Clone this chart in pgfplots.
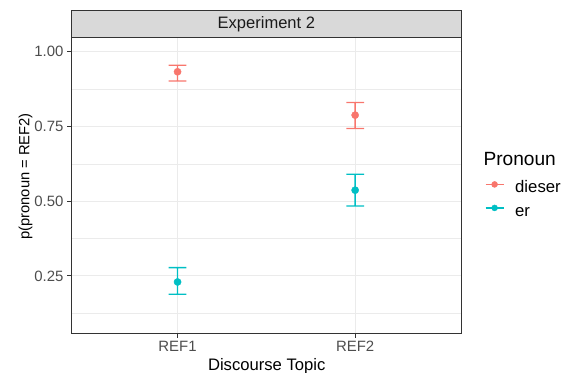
\documentclass[border=0pt]{standalone}
\usepackage{pgfplots}
\usepackage{pgfplotstable}
\pgfplotsset{compat=1.18}
\usepackage{fontspec}
\setmainfont{Liberation Sans}
\definecolor{cdieser}{HTML}{F8766D}
\definecolor{cer}{HTML}{00BFC4}
\definecolor{gridc}{HTML}{EBEBEB}
\definecolor{grey20}{HTML}{333333}
\definecolor{grey30}{HTML}{4D4D4D}
\definecolor{grey85}{HTML}{D9D9D9}
\definecolor{grey10}{HTML}{1A1A1A}
% points
\pgfplotstableread{
x y
1 0.933
2 0.788
}\dieser
\pgfplotstableread{
x y
1 0.230
2 0.537
}\er
% error bars (lower 0.902/0.743, upper 0.955/0.830) as thin filled strips: bars and caps
\pgfplotstableread{
x y
0.9963 0.902
1.0037 0.902
1.0037 0.955
0.9963 0.955
nan nan
0.95 0.9528
1.05 0.9528
1.05 0.9572
0.95 0.9572
nan nan
0.95 0.8998
1.05 0.8998
1.05 0.9042
0.95 0.9042
nan nan
1.9963 0.743
2.0037 0.743
2.0037 0.830
1.9963 0.830
nan nan
1.95 0.8278
2.05 0.8278
2.05 0.8322
1.95 0.8322
nan nan
1.95 0.7408
2.05 0.7408
2.05 0.7452
1.95 0.7452
}\dieserci
% error bars (lower 0.189/0.484, upper 0.278/0.590)
\pgfplotstableread{
x y
0.9963 0.189
1.0037 0.189
1.0037 0.278
0.9963 0.278
nan nan
0.95 0.2758
1.05 0.2758
1.05 0.2802
0.95 0.2802
nan nan
0.95 0.1868
1.05 0.1868
1.05 0.1912
0.95 0.1912
nan nan
1.9963 0.484
2.0037 0.484
2.0037 0.590
1.9963 0.590
nan nan
1.95 0.5878
2.05 0.5878
2.05 0.5922
1.95 0.5922
nan nan
1.95 0.4818
2.05 0.4818
2.05 0.4862
1.95 0.4862
}\erci
\begin{document}
\begin{tikzpicture}
\begin{axis}[
  at={(71bp,39bp)}, anchor=south west,
  scale only axis, width=390.7bp, height=296.3bp,
  xmin=0.4, xmax=2.6, ymin=0.056, ymax=1.047,
  xtick={1,2}, xticklabels={REF1,REF2},
  ytick={0.25,0.5,0.75,1}, yticklabels={0.25,0.50,0.75,1.00},
  minor ytick={0.125,0.375,0.625,0.875},
  xmajorgrids, ymajorgrids, yminorgrids,
  major grid style={gridc, line width=1bp},
  minor grid style={gridc, line width=0.55bp},
  axis line style={grey20, line width=1bp},
  tick align=outside, major tick length=4bp, minor tick length=0pt,
  tick style={grey20, line width=1bp},
  xtick pos=bottom, ytick pos=left,
  ticklabel style={font=\fontsize{15}{18}\selectfont, text=grey30},
  xlabel={Discourse Topic}, ylabel={p(pronoun = REF2)},
  xlabel style={font=\fontsize{16.7}{20}\selectfont, at={(rel axis cs:0.501,-0.122)}, anchor=base},
  ylabel style={font=\fontsize{14.8}{18}\selectfont, at={(rel axis cs:-0.1165,0.5316)}, anchor=center},
  clip=false,
  set layers, axis on top=false,
  unbounded coords=jump,
  legend style={at={(rel axis cs:1.0596,0.45)}, anchor=west, draw=none, fill=none,
    inner sep=0pt, outer sep=0pt,
    font=\fontsize{16.8}{20}\selectfont,
    nodes={inner sep=0pt, text height=12bp, text depth=4bp},
    row sep=7.5bp, column sep=11bp},
  legend cell align=left,
]
\addplot[forget plot, on layer=axis foreground, draw=none, fill=cdieser, mark=none] table[x=x, y=y] {\dieserci};
\addplot[forget plot, on layer=axis foreground, only marks, mark=*, mark size=3.6bp, color=cdieser] table[x=x, y=y] {\dieser};
\addplot[forget plot, on layer=axis foreground, draw=none, fill=cer, mark=none] table[x=x, y=y] {\erci};
\addplot[forget plot, on layer=axis foreground, only marks, mark=*, mark size=3.6bp, color=cer] table[x=x, y=y] {\er};
\addlegendimage{legend image code/.code={\draw[cdieser, line width=1.2bp] (0bp,4.5bp) -- (18bp,4.5bp); \fill[cdieser] (9bp,4.5bp) circle (3bp);}}
\addlegendentry{dieser}
\addlegendimage{legend image code/.code={\draw[cer, line width=1.2bp] (0bp,4.5bp) -- (18bp,4.5bp); \fill[cer] (9bp,4.5bp) circle (3bp);}}
\addlegendentry{er}
\draw[fill=grey85, draw=grey20, line width=1bp] (rel axis cs:0,1) rectangle ([yshift=26.7bp]rel axis cs:1,1);
\node[font=\fontsize{16.6}{20}\selectfont, text=grey10, anchor=center] at ([yshift=13.35bp]rel axis cs:0.5,1) {Experiment 2};
\node[font=\fontsize{19.2}{22}\selectfont, anchor=base west, inner sep=0pt] at (rel axis cs:1.0553,0.568) {Pronoun};
\end{axis}
\pgfresetboundingbox
\path[use as bounding box] (0,0) rectangle (571bp,373bp);
\end{tikzpicture}
\end{document}
